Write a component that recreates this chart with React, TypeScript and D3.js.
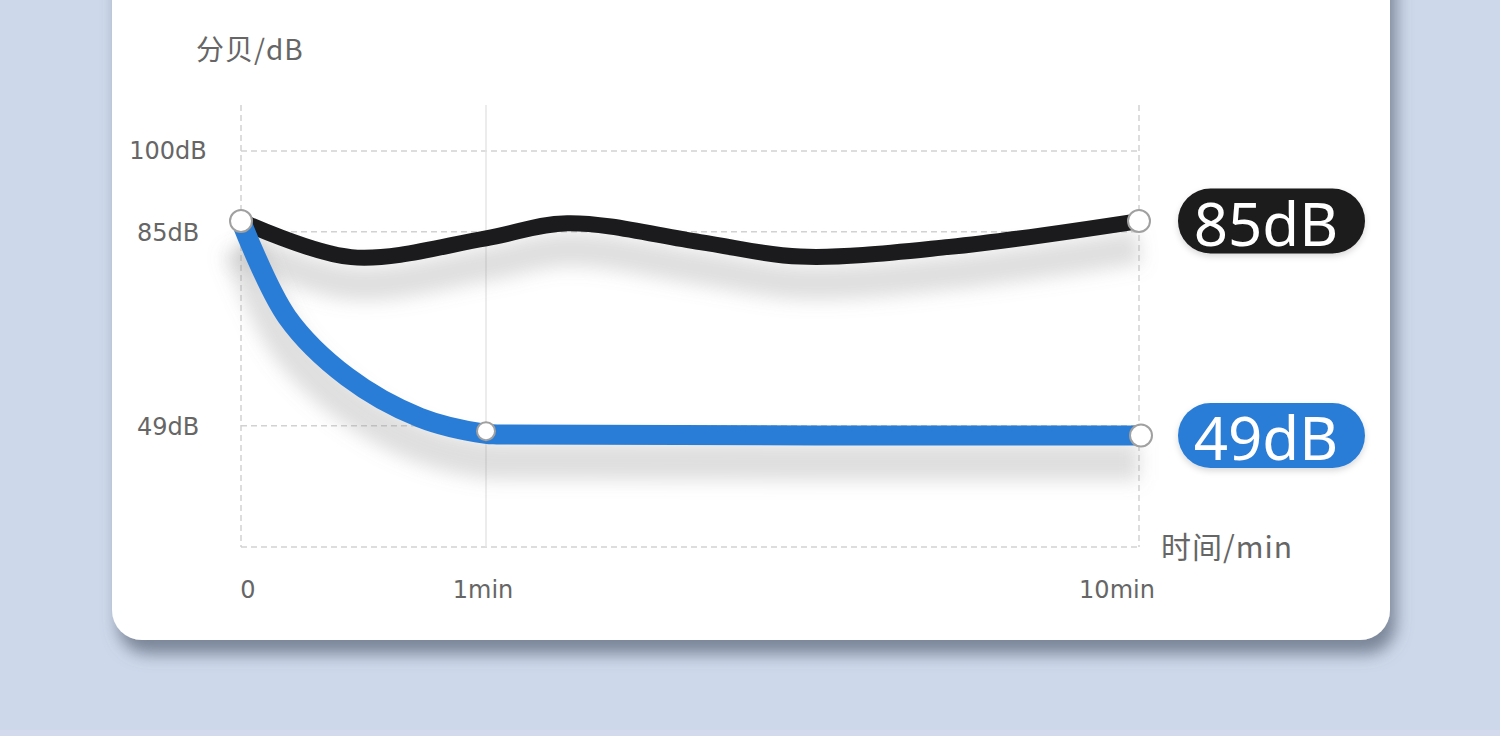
import React from "react";
import * as d3 from "d3";

// time in minutes, level in dB
const noiseTimes = [0, 0.45, 1, 2.12, 3.95, 5.33, 7.39, 10];
const noiseLevels = [87, 80.3, 83.8, 86.6, 83.1, 80.4, 82.2, 87];

const quietTimes = [0, 0.188, 0.433, 0.731, 1, 1.15, 10];
const quietLevels = [87, 69.2, 58.1, 50.5, 47.5, 47.4, 47.2];

const yTicks = [100, 85, 49];
const yTickLabels = ["100dB", "85dB", "49dB"];
const xTicks = [0, 1, 10];
const xTickLabels = ["0", "1min", "10min"];

const endLabels = ["85dB", "49dB"];
const seriesColors = ["#1b1a1c", "#2a7dd6"];

const W = 1500;
const H = 736;
const latin = "'DejaVu Sans', 'Noto Sans', sans-serif";
const cjk = "'Noto Sans CJK SC', 'Noto Sans', sans-serif";

const App = () => {
  const xScale = d3.scaleLinear().domain([0, 1, 10]).range([241, 486, 1139]);
  const yScale = d3.scaleLinear().domain([26.5, 100]).range([547, 151]);
  const plotTop = 105;
  const plotBottom = yScale(26.5);

  const line = d3
    .line<[number, number]>()
    .x((d) => xScale(d[0]))
    .y((d) => yScale(d[1]))
    .curve(d3.curveCatmullRom.alpha(0.5));

  const series = [
    { pts: noiseTimes.map((t, i) => [t, noiseLevels[i]] as [number, number]), width: 16 },
    { pts: quietTimes.map((t, i) => [t, quietLevels[i]] as [number, number]), width: 20 },
  ];

  // marker circles: start, and points shown in the picture
  const markers: [number, number][] = [
    series[0].pts[0],
    series[0].pts[series[0].pts.length - 1],
    [quietTimes[4], quietLevels[4] + 0.5],
    series[1].pts[series[1].pts.length - 1],
  ];

  return (
    <svg
      width={W}
      height={H}
      style={{ position: "fixed", left: 0, top: 0, display: "block" }}
    >
      <defs>
        <filter id="cardShadow" x="-10%" y="-10%" width="120%" height="130%">
          <feDropShadow dx="6" dy="14" stdDeviation="8" floodColor="#5f6a7e" floodOpacity="0.75" />
        </filter>
        <filter id="lineShadow" x="-10%" y="-60%" width="120%" height="320%">
          <feGaussianBlur stdDeviation="9" />
        </filter>
        <filter id="pillShadow" x="-20%" y="-30%" width="140%" height="180%">
          <feDropShadow dx="0" dy="3" stdDeviation="3" floodColor="#000" floodOpacity="0.15" />
        </filter>
      </defs>

      <rect x={0} y={0} width={W} height={H} fill="#cdd8ea" />
      <rect x={0} y={730} width={W} height={6} fill="#d3daee" />

      <rect
        x={112}
        y={-60}
        width={1278}
        height={700}
        rx={30}
        fill="#ffffff"
        filter="url(#cardShadow)"
      />

      {/* grid */}
      <g stroke="#d2d2d2" strokeWidth={1.4} fill="none">
        {yTicks.map((v) => (
          <line
            key={v}
            x1={xScale(0)}
            x2={xScale(10)}
            y1={yScale(v)}
            y2={yScale(v)}
            strokeDasharray="6 4"
          />
        ))}
        <line
          x1={xScale(0)}
          x2={xScale(10)}
          y1={plotBottom}
          y2={plotBottom}
          strokeDasharray="6 4"
        />
        {xTicks.map((v, i) => (
          <line
            key={v}
            x1={xScale(v)}
            x2={xScale(v)}
            y1={plotTop}
            y2={plotBottom}
            stroke={i === 1 ? "#e4e4e4" : "#cfcfcf"}
            strokeDasharray={i === 1 ? undefined : "6 4"}
          />
        ))}
      </g>

      {/* soft shadows under the lines */}
      {series.map((s, i) => (
        <path
          key={"sh" + i}
          d={line(s.pts) || ""}
          transform="translate(0,26)"
          fill="none"
          stroke="#8a8a8a"
          strokeOpacity={0.28}
          strokeWidth={s.width + 18}
          filter="url(#lineShadow)"
        />
      ))}

      {series.map((s, i) => (
        <path
          key={"ln" + i}
          d={line(s.pts) || ""}
          fill="none"
          stroke={seriesColors[i]}
          strokeWidth={s.width}
          strokeLinecap="butt"
        />
      ))}

      {markers.map((d, i) => (
        <circle
          key={"m" + i}
          cx={xScale(d[0]) + (i === 3 ? 2 : 0)}
          cy={yScale(d[1])}
          r={i === 2 ? 9 : 11}
          fill="#ffffff"
          stroke="#a0a0a0"
          strokeWidth={2}
        />
      ))}

      {/* axis labels */}
      <g fontFamily={latin} fontSize={24} fill="#666">
        {yTicks.map((v, i) => (
          <text key={v} x={168} y={yScale(v) + (i === 0 ? 0 : 1)} textAnchor="middle" dominantBaseline="central">
            {yTickLabels[i]}
          </text>
        ))}
        {xTicks.map((v, i) => (
          <text
            key={v}
            x={xScale(v) + (i === 0 ? 7 : i === 1 ? -3 : -22)}
            y={plotBottom + 43}
            textAnchor="middle"
            dominantBaseline="central"
          >
            {xTickLabels[i]}
          </text>
        ))}
      </g>
      <text x={196} y={48} fontFamily={cjk} fontSize={28} fill="#666" letterSpacing={1} dominantBaseline="central">
        分贝/dB
      </text>
      <text x={1161} y={545} fontFamily={cjk} fontSize={30} fill="#666" letterSpacing={1} dominantBaseline="central">
        时间/min
      </text>

      {/* value pills at the line ends */}
      {series.map((s, i) => {
        const last = s.pts[s.pts.length - 1];
        const cx = xScale(last[0]) + 132;
        const cy = yScale(last[1]);
        return (
          <g key={"p" + i} filter="url(#pillShadow)">
            <rect x={cx - 93} y={cy - 32.5} width={187} height={65} rx={32.5} fill={seriesColors[i]} />
            <text
              x={cx - 5}
              y={cy + 2}
              textAnchor="middle"
              dominantBaseline="central"
              fontFamily="'Noto Sans', sans-serif"
              fontSize={60}
              fill="#ffffff"
            >
              {endLabels[i]}
            </text>
          </g>
        );
      })}
    </svg>
  );
};

export default App;
